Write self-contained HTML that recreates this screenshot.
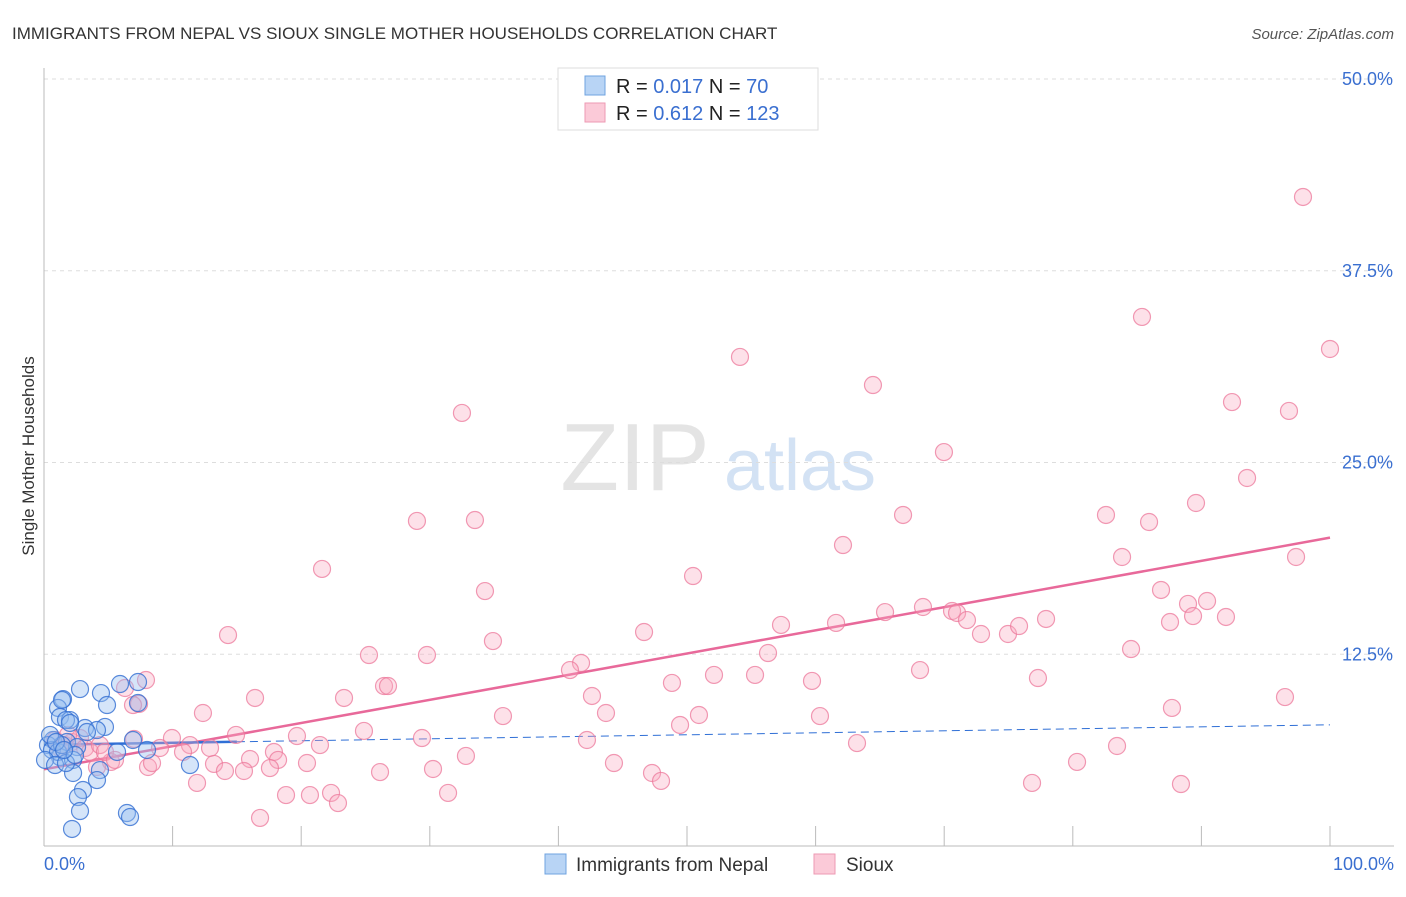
<!DOCTYPE html>
<html><head><meta charset="utf-8"><style>
body{margin:0;background:#fff;font-family:"Liberation Sans",sans-serif;}
svg text{font-family:"Liberation Sans",sans-serif;}
</style></head><body>
<svg id="c" width="1406" height="892">
<text x="12" y="39" font-size="17" fill="#333">IMMIGRANTS FROM NEPAL VS SIOUX SINGLE MOTHER HOUSEHOLDS CORRELATION CHART</text>
<text x="1394" y="39" font-size="15" fill="#555" text-anchor="end" font-style="italic">Source: ZipAtlas.com</text>
<text x="34" y="456" font-size="17" fill="#333" text-anchor="middle" transform="rotate(-90 34 456)">Single Mother Households</text>
<g><text x="635" y="490" font-size="96" fill="#e4e4e4" font-family="Liberation Serif" text-anchor="middle">ZIP</text><text x="800" y="490" font-size="72" fill="#d3e2f4" text-anchor="middle">atlas</text></g>
<g id="grid"></g><g id="axes"></g><g id="lines"></g><g id="pts"></g>
<g>
<rect x="558" y="68" width="260" height="62" fill="#fff" stroke="#ddd"/>
<rect x="585" y="76" width="20" height="19" fill="#b8d4f5" stroke="#6fa3e0"/>
<rect x="585" y="103" width="20" height="19" fill="#fbcad8" stroke="#ee9ab3"/>
<text x="616" y="93" font-size="20" fill="#222">R = <tspan fill="#3a6fd0">0.017</tspan>   N =  <tspan fill="#3a6fd0"> 70</tspan></text>
<text x="616" y="120" font-size="20" fill="#222">R =  <tspan fill="#3a6fd0">0.612</tspan>   N = <tspan fill="#3a6fd0">123</tspan></text>
</g>
<g>
<rect x="545" y="854" width="21" height="20" fill="#b8d4f5" stroke="#6fa3e0"/>
<text x="576" y="871" font-size="19" fill="#333">Immigrants from Nepal</text>
<rect x="814" y="854" width="21" height="20" fill="#fbcad8" stroke="#ee9ab3"/>
<text x="846" y="871" font-size="19" fill="#333">Sioux</text>
</g>
</svg>
<script>
const yTicks=[12.5,25,37.5,50];
const yTickLabels=["12.5%","25.0%","37.5%","50.0%"];
const xTickLabels=["0.0%","100.0%"];
const bluePx=[[80,689],[120,684],[138,682],[101,693],[63,699],[107,705],[138,703],[58,708],[60,717],[70,720],[85,728],[105,727],[97,730],[87,732],[53,740],[67,742],[77,747],[133,740],[147,750],[117,752],[60,757],[73,760],[100,770],[190,765],[97,780],[73,773],[83,790],[78,797],[80,811],[127,813],[130,817],[72,829],[48,745],[52,750],[58,752],[62,745],[45,760],[55,765],[66,763],[75,755],[50,735],[62,700],[66,720],[70,723],[56,742],[64,750]];
const pinkPx=[[1303,197],[1142,317],[1330,349],[740,357],[873,385],[462,413],[1232,402],[1289,411],[944,452],[1247,478],[417,521],[475,520],[1106,515],[1149,522],[1196,503],[903,515],[843,545],[1122,557],[1296,557],[322,569],[693,576],[485,591],[1161,590],[1188,604],[1207,601],[1170,622],[1193,616],[1226,617],[923,607],[952,611],[957,613],[967,620],[885,612],[836,623],[781,625],[981,634],[1008,634],[1019,626],[1046,619],[644,632],[493,641],[228,635],[369,655],[427,655],[768,653],[581,663],[570,670],[1131,649],[920,670],[714,675],[755,675],[812,681],[672,683],[1038,678],[146,680],[384,686],[388,686],[592,696],[344,698],[255,698],[139,704],[1285,697],[203,713],[503,716],[606,713],[699,715],[820,716],[1172,708],[680,725],[364,731],[236,735],[297,736],[172,738],[422,738],[134,739],[587,740],[320,745],[857,743],[1117,746],[190,745],[160,748],[210,748],[274,752],[183,752],[466,756],[250,759],[278,760],[307,763],[111,762],[148,767],[214,764],[152,763],[614,763],[1077,762],[433,769],[652,773],[97,767],[380,772],[244,771],[225,771],[270,768],[661,781],[197,783],[1032,783],[1181,784],[448,793],[286,795],[310,795],[331,793],[338,803],[260,818],[125,688],[133,705],[55,740],[60,748],[65,745],[72,742],[80,738],[85,748],[90,752],[100,745],[105,752],[115,760],[68,735]];
// convert read pixel positions into data values (percent)
const nepalX=bluePx.map(p=>+((p[0]-44)/12.86).toFixed(2));
const nepalY=bluePx.map(p=>+((846-p[1])/15.34).toFixed(2));
const siouxX=pinkPx.map(p=>+((p[0]-44)/12.86).toFixed(2));
const siouxY=pinkPx.map(p=>+((846-p[1])/15.34).toFixed(2));
const nepalFit=[6.6,7.9];
const siouxFit=[5.0,20.1];
const sx=v=>44+v*12.86, sy=v=>846-v*15.34;
const NS="http://www.w3.org/2000/svg";
function mk(tag,attrs,parent){const e=document.createElementNS(NS,tag);for(const k in attrs)e.setAttribute(k,attrs[k]);document.getElementById(parent).appendChild(e);return e;}
yTicks.forEach((t,i)=>{
 const g=mk('line',{x1:44,x2:1394,y1:sy(t),y2:sy(t),stroke:'#ddd','stroke-dasharray':'4,4'},'grid');
 
 
 const l=mk('text',{x:1393,y:sy(t)+6,'font-size':18,fill:'#3a6fd0','text-anchor':'end'},'axes');
 l.textContent=yTickLabels[i];
 
 
});
let a=mk('line',{x1:44,x2:44,y1:68,y2:846,stroke:'#bbb'},'axes');


a=mk('line',{x1:44,x2:1394,y1:846,y2:846,stroke:'#bbb'},'axes');


for(let i=1;i<=10;i++){const t=mk('line',{x1:sx(i*10),x2:sx(i*10),y1:826,y2:846,stroke:'#bbb'},'axes');
 
 }
let xl=mk('text',{x:44,y:870,'font-size':18,fill:'#3a6fd0'},'axes');xl.textContent=xTickLabels[0];


xl=mk('text',{x:1394,y:870,'font-size':18,fill:'#3a6fd0','text-anchor':'end'},'axes');xl.textContent=xTickLabels[1];


siouxX.forEach((x,i)=>{const c=mk('circle',{cx:sx(x),cy:sy(siouxY[i]),r:8.5,fill:'rgba(248,168,192,0.35)',stroke:'rgba(236,120,155,0.75)','stroke-width':1.2},'pts');
 
 });
nepalX.forEach((x,i)=>{const c=mk('circle',{cx:sx(x),cy:sy(nepalY[i]),r:8.5,fill:'rgba(150,190,240,0.4)',stroke:'rgba(50,110,210,0.8)','stroke-width':1.2},'pts');
 
 });
const lerp=(f,x)=>f[0]+(f[1]-f[0])*x/100;
let ln=mk('line',{x1:sx(0),y1:sy(lerp(siouxFit,0)),x2:sx(100),y2:sy(lerp(siouxFit,100)),stroke:'#e8699a','stroke-width':2.5},'lines');


ln=mk('line',{x1:sx(0),y1:sy(lerp(nepalFit,0)),x2:sx(15),y2:sy(lerp(nepalFit,15)),stroke:'#2f6fd6','stroke-width':2.5},'lines');


ln=mk('line',{x1:sx(15),y1:sy(lerp(nepalFit,15)),x2:sx(100),y2:sy(lerp(nepalFit,100)),stroke:'#2f6fd6','stroke-width':1,'stroke-dasharray':'8,5'},'lines');


</script>
</body></html>
